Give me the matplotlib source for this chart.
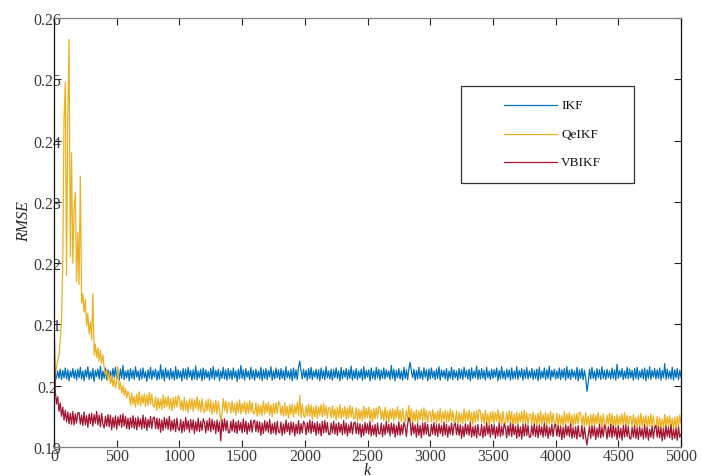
import numpy as np
import matplotlib
matplotlib.use("Agg")
import matplotlib.pyplot as plt
from matplotlib.patches import Rectangle
from matplotlib.lines import Line2D

plt.rcParams['font.family'] = ['Liberation Serif', 'DejaVu Serif']

# RMSE sampled every 10 steps, k = 0 ... 5000
k_step = 10

ikf = [0.2000, 0.2009, 0.2014, 0.2024, 0.2012, 0.2027, 0.2010, 0.2025, 0.2013, 0.2029,
       0.2011, 0.2026, 0.2008, 0.2024, 0.2014, 0.2028, 0.2012, 0.2025, 0.2009, 0.2027,
       0.2013, 0.2030, 0.2011, 0.2024, 0.2008, 0.2026, 0.2014, 0.2031, 0.2010, 0.2023,
       0.2012, 0.2028, 0.2007, 0.2025, 0.2015, 0.2027, 0.2011, 0.2032, 0.2009, 0.2024,
       0.2012, 0.2029, 0.2010, 0.2026, 0.2013, 0.2024, 0.2008, 0.2028, 0.2014, 0.2030,
       0.2011, 0.2025, 0.2009, 0.2027, 0.2012, 0.2033, 0.2010, 0.2024, 0.2013, 0.2026,
       0.2008, 0.2028, 0.2012, 0.2025, 0.2010, 0.2031, 0.2014, 0.2024, 0.2009, 0.2027,
       0.2011, 0.2029, 0.2013, 0.2023, 0.2007, 0.2026, 0.2012, 0.2030, 0.2010, 0.2025,
       0.2014, 0.2027, 0.2009, 0.2024, 0.2011, 0.2034, 0.2012, 0.2026, 0.2008, 0.2029,
       0.2013, 0.2025, 0.2010, 0.2028, 0.2012, 0.2024, 0.2009, 0.2031, 0.2011, 0.2026,
       0.2013, 0.2024, 0.2008, 0.2028, 0.2012, 0.2027, 0.2010, 0.2030, 0.2014, 0.2025,
       0.2009, 0.2026, 0.2011, 0.2032, 0.2010, 0.2024, 0.2013, 0.2027, 0.2008, 0.2029,
       0.2011, 0.2026, 0.2013, 0.2023, 0.2009, 0.2028, 0.2012, 0.2031, 0.2010, 0.2025,
       0.2014, 0.2027, 0.2008, 0.2024, 0.2012, 0.2030, 0.2011, 0.2026, 0.2009, 0.2028,
       0.2012, 0.2025, 0.2010, 0.2029, 0.2013, 0.2024, 0.2007, 0.2027, 0.2011, 0.2033,
       0.2012, 0.2026, 0.2009, 0.2028, 0.2014, 0.2024, 0.2010, 0.2030, 0.2012, 0.2025,
       0.2009, 0.2027, 0.2013, 0.2024, 0.2011, 0.2030, 0.2008, 0.2026, 0.2012, 0.2028,
       0.2010, 0.2025, 0.2014, 0.2031, 0.2009, 0.2024, 0.2011, 0.2029, 0.2013, 0.2026,
       0.2010, 0.2028, 0.2012, 0.2025, 0.2009, 0.2031, 0.2013, 0.2024, 0.2011, 0.2027,
       0.2008, 0.2029, 0.2012, 0.2026, 0.2010, 0.2030, 0.2040, 0.2024, 0.2011, 0.2027,
       0.2013, 0.2025, 0.2009, 0.2028, 0.2012, 0.2030, 0.2010, 0.2024, 0.2014, 0.2027,
       0.2011, 0.2026, 0.2008, 0.2029, 0.2012, 0.2025, 0.2010, 0.2031, 0.2013, 0.2024,
       0.2011, 0.2027, 0.2009, 0.2026, 0.2013, 0.2029, 0.2012, 0.2024, 0.2008, 0.2030,
       0.2011, 0.2025, 0.2014, 0.2028, 0.2010, 0.2026, 0.2012, 0.2032, 0.2009, 0.2025,
       0.2012, 0.2028, 0.2010, 0.2024, 0.2013, 0.2027, 0.2009, 0.2031, 0.2011, 0.2025,
       0.2014, 0.2026, 0.2008, 0.2029, 0.2012, 0.2024, 0.2010, 0.2030, 0.2013, 0.2027,
       0.2009, 0.2025, 0.2012, 0.2029, 0.2011, 0.2026, 0.2014, 0.2024, 0.2010, 0.2033,
       0.2012, 0.2027, 0.2008, 0.2025, 0.2013, 0.2028, 0.2011, 0.2024, 0.2009, 0.2030,
       0.2012, 0.2026, 0.2010, 0.2028, 0.2038, 0.2024, 0.2013, 0.2027, 0.2009, 0.2025,
       0.2011, 0.2030, 0.2012, 0.2024, 0.2010, 0.2029, 0.2014, 0.2026, 0.2008, 0.2027,
       0.2011, 0.2029, 0.2013, 0.2024, 0.2010, 0.2027, 0.2012, 0.2031, 0.2009, 0.2026,
       0.2014, 0.2025, 0.2011, 0.2028, 0.2008, 0.2024, 0.2012, 0.2030, 0.2010, 0.2026,
       0.2013, 0.2024, 0.2009, 0.2028, 0.2012, 0.2026, 0.2010, 0.2030, 0.2014, 0.2025,
       0.2011, 0.2027, 0.2008, 0.2029, 0.2012, 0.2024, 0.2013, 0.2032, 0.2010, 0.2026,
       0.2011, 0.2028, 0.2012, 0.2025, 0.2009, 0.2030, 0.2013, 0.2024, 0.2010, 0.2027,
       0.2012, 0.2026, 0.2014, 0.2029, 0.2008, 0.2025, 0.2011, 0.2031, 0.2012, 0.2024,
       0.2010, 0.2027, 0.2013, 0.2026, 0.2009, 0.2029, 0.2011, 0.2024, 0.2012, 0.2031,
       0.2010, 0.2025, 0.2014, 0.2028, 0.2009, 0.2026, 0.2012, 0.2030, 0.2011, 0.2024,
       0.2013, 0.2028, 0.2010, 0.2025, 0.2012, 0.2027, 0.2008, 0.2030, 0.2011, 0.2024,
       0.2013, 0.2029, 0.2010, 0.2026, 0.2012, 0.2032, 0.2009, 0.2025, 0.2014, 0.2027,
       0.2011, 0.2024, 0.2012, 0.2029, 0.2010, 0.2026, 0.2013, 0.2028, 0.2009, 0.2031,
       0.2012, 0.2025, 0.2010, 0.2027, 0.2014, 0.2024, 0.2011, 0.2030, 0.2008, 0.2026,
       0.2012, 0.2028, 0.2010, 0.2025, 0.2013, 0.1991, 0.2004, 0.2027, 0.2011, 0.2030,
       0.2012, 0.2024, 0.2009, 0.2028, 0.2013, 0.2026, 0.2010, 0.2031, 0.2012, 0.2025,
       0.2010, 0.2027, 0.2013, 0.2024, 0.2011, 0.2029, 0.2012, 0.2026, 0.2009, 0.2035,
       0.2012, 0.2025, 0.2014, 0.2028, 0.2010, 0.2024, 0.2012, 0.2030, 0.2011, 0.2027,
       0.2013, 0.2025, 0.2009, 0.2028, 0.2012, 0.2030, 0.2010, 0.2024, 0.2013, 0.2027,
       0.2011, 0.2029, 0.2008, 0.2026, 0.2012, 0.2031, 0.2010, 0.2025, 0.2014, 0.2028,
       0.2011, 0.2026, 0.2012, 0.2029, 0.2009, 0.2025, 0.2013, 0.2036, 0.2010, 0.2027,
       0.2012, 0.2024, 0.2011, 0.2030, 0.2009, 0.2026, 0.2013, 0.2028, 0.2010, 0.2025,
       0.2014]

qeikf = [0.2000, 0.2018, 0.2030, 0.2042, 0.2050, 0.2075, 0.2110, 0.2200, 0.2435, 0.2495,
         0.2180, 0.2440, 0.2565, 0.2210, 0.2380, 0.2200, 0.2290, 0.2315, 0.2170, 0.2250,
         0.2165, 0.2342, 0.2135, 0.2150, 0.2120, 0.2141, 0.2098, 0.2118, 0.2085, 0.2104,
         0.2075, 0.2150, 0.2050, 0.2068, 0.2046, 0.2062, 0.2040, 0.2058, 0.2036, 0.2050,
         0.2030, 0.2018, 0.2026, 0.2009, 0.2021, 0.2003, 0.2017, 0.1999, 0.2012, 0.1996,
         0.2008, 0.2031, 0.1994, 0.2005, 0.1988, 0.2000, 0.1984, 0.1996, 0.1980, 0.1991,
         0.1985, 0.1968, 0.1988, 0.1970, 0.1983, 0.1965, 0.1986, 0.1969, 0.1990, 0.1967,
         0.1984, 0.1971, 0.1987, 0.1966, 0.1985, 0.1968, 0.1989, 0.1970, 0.1986, 0.1967,
         0.1965, 0.1982, 0.1960, 0.1980, 0.1963, 0.1978, 0.1961, 0.1985, 0.1964, 0.1981,
         0.1966, 0.1983, 0.1962, 0.1979, 0.1959, 0.1981, 0.1964, 0.1982, 0.1965, 0.1984,
         0.1980, 0.1961, 0.1976, 0.1959, 0.1981, 0.1960, 0.1975, 0.1956, 0.1978, 0.1962,
         0.1979, 0.1958, 0.1977, 0.1963, 0.1982, 0.1960, 0.1976, 0.1957, 0.1979, 0.1961,
         0.1956, 0.1975, 0.1959, 0.1978, 0.1958, 0.1977, 0.1953, 0.1973, 0.1957, 0.1976,
         0.1954, 0.1974, 0.1960, 0.1942, 0.1957, 0.1979, 0.1959, 0.1975, 0.1955, 0.1972,
         0.1972, 0.1955, 0.1975, 0.1957, 0.1970, 0.1952, 0.1973, 0.1956, 0.1977, 0.1954,
         0.1971, 0.1958, 0.1974, 0.1953, 0.1972, 0.1955, 0.1976, 0.1957, 0.1973, 0.1954,
         0.1955, 0.1972, 0.1950, 0.1970, 0.1953, 0.1968, 0.1951, 0.1975, 0.1954, 0.1971,
         0.1956, 0.1973, 0.1952, 0.1969, 0.1949, 0.1971, 0.1954, 0.1972, 0.1955, 0.1974,
         0.1971, 0.1952, 0.1967, 0.1950, 0.1972, 0.1951, 0.1966, 0.1947, 0.1969, 0.1953,
         0.1970, 0.1949, 0.1968, 0.1954, 0.1973, 0.1951, 0.1984, 0.1948, 0.1970, 0.1952,
         0.1948, 0.1967, 0.1951, 0.1970, 0.1950, 0.1969, 0.1945, 0.1965, 0.1949, 0.1968,
         0.1946, 0.1966, 0.1952, 0.1969, 0.1949, 0.1971, 0.1951, 0.1967, 0.1947, 0.1964,
         0.1964, 0.1947, 0.1967, 0.1949, 0.1962, 0.1944, 0.1965, 0.1948, 0.1969, 0.1946,
         0.1963, 0.1950, 0.1966, 0.1945, 0.1964, 0.1947, 0.1968, 0.1949, 0.1965, 0.1946,
         0.1947, 0.1964, 0.1942, 0.1962, 0.1945, 0.1960, 0.1943, 0.1967, 0.1946, 0.1963,
         0.1948, 0.1965, 0.1944, 0.1961, 0.1941, 0.1963, 0.1946, 0.1964, 0.1947, 0.1966,
         0.1964, 0.1945, 0.1960, 0.1943, 0.1965, 0.1944, 0.1959, 0.1940, 0.1962, 0.1946,
         0.1963, 0.1942, 0.1961, 0.1947, 0.1966, 0.1944, 0.1960, 0.1941, 0.1963, 0.1945,
         0.1941, 0.1960, 0.1944, 0.1968, 0.1943, 0.1962, 0.1938, 0.1958, 0.1942, 0.1961,
         0.1939, 0.1959, 0.1945, 0.1962, 0.1942, 0.1964, 0.1944, 0.1960, 0.1940, 0.1957,
         0.1958, 0.1941, 0.1961, 0.1943, 0.1956, 0.1938, 0.1959, 0.1942, 0.1963, 0.1940,
         0.1957, 0.1944, 0.1960, 0.1939, 0.1958, 0.1941, 0.1962, 0.1943, 0.1959, 0.1940,
         0.1942, 0.1959, 0.1937, 0.1957, 0.1940, 0.1955, 0.1938, 0.1962, 0.1941, 0.1958,
         0.1943, 0.1960, 0.1939, 0.1956, 0.1936, 0.1958, 0.1941, 0.1959, 0.1942, 0.1961,
         0.1959, 0.1940, 0.1955, 0.1938, 0.1960, 0.1939, 0.1954, 0.1935, 0.1957, 0.1941,
         0.1958, 0.1937, 0.1956, 0.1942, 0.1961, 0.1939, 0.1955, 0.1936, 0.1958, 0.1940,
         0.1937, 0.1956, 0.1940, 0.1959, 0.1939, 0.1958, 0.1934, 0.1954, 0.1938, 0.1957,
         0.1935, 0.1955, 0.1941, 0.1958, 0.1938, 0.1960, 0.1940, 0.1956, 0.1936, 0.1953,
         0.1954, 0.1937, 0.1957, 0.1939, 0.1952, 0.1934, 0.1955, 0.1938, 0.1959, 0.1936,
         0.1953, 0.1940, 0.1956, 0.1935, 0.1954, 0.1937, 0.1958, 0.1939, 0.1955, 0.1936,
         0.1938, 0.1955, 0.1933, 0.1953, 0.1936, 0.1951, 0.1934, 0.1958, 0.1937, 0.1954,
         0.1939, 0.1956, 0.1935, 0.1952, 0.1932, 0.1954, 0.1937, 0.1955, 0.1938, 0.1957,
         0.1955, 0.1936, 0.1951, 0.1934, 0.1956, 0.1935, 0.1950, 0.1931, 0.1953, 0.1937,
         0.1954, 0.1933, 0.1952, 0.1938, 0.1957, 0.1935, 0.1951, 0.1932, 0.1954, 0.1936,
         0.1933, 0.1952, 0.1936, 0.1955, 0.1935, 0.1954, 0.1930, 0.1950, 0.1934, 0.1953,
         0.1931, 0.1951, 0.1937, 0.1954, 0.1934, 0.1956, 0.1936, 0.1952, 0.1932, 0.1949,
         0.1950, 0.1933, 0.1953, 0.1935, 0.1948, 0.1930, 0.1951, 0.1934, 0.1955, 0.1932,
         0.1949, 0.1936, 0.1952, 0.1931, 0.1950, 0.1933, 0.1954, 0.1935, 0.1951, 0.1932,
         0.1933, 0.1950, 0.1928, 0.1948, 0.1931, 0.1946, 0.1929, 0.1953, 0.1932, 0.1949,
         0.1934, 0.1951, 0.1930, 0.1947, 0.1927, 0.1949, 0.1932, 0.1950, 0.1933, 0.1952,
         0.1938]

vbikf = [0.2120, 0.1992, 0.1970, 0.1982, 0.1958, 0.1972, 0.1950, 0.1965, 0.1944, 0.1960,
         0.1941, 0.1957, 0.1938, 0.1955, 0.1937, 0.1958, 0.1936, 0.1954, 0.1939, 0.1956,
         0.1956, 0.1937, 0.1952, 0.1935, 0.1957, 0.1936, 0.1951, 0.1932, 0.1954, 0.1938,
         0.1955, 0.1934, 0.1953, 0.1939, 0.1958, 0.1936, 0.1952, 0.1933, 0.1955, 0.1937,
         0.1931, 0.1950, 0.1934, 0.1953, 0.1933, 0.1952, 0.1928, 0.1948, 0.1932, 0.1951,
         0.1929, 0.1949, 0.1935, 0.1952, 0.1932, 0.1954, 0.1934, 0.1950, 0.1930, 0.1947,
         0.1929, 0.1948, 0.1932, 0.1951, 0.1930, 0.1947, 0.1928, 0.1949, 0.1933, 0.1946,
         0.1929, 0.1952, 0.1931, 0.1948, 0.1927, 0.1945, 0.1932, 0.1950, 0.1930, 0.1947,
         0.1949, 0.1930, 0.1947, 0.1929, 0.1946, 0.1924, 0.1944, 0.1927, 0.1948, 0.1931,
         0.1946, 0.1929, 0.1950, 0.1926, 0.1943, 0.1928, 0.1945, 0.1925, 0.1947, 0.1930,
         0.1927, 0.1945, 0.1923, 0.1942, 0.1926, 0.1948, 0.1929, 0.1943, 0.1924, 0.1945,
         0.1928, 0.1944, 0.1922, 0.1941, 0.1926, 0.1947, 0.1925, 0.1942, 0.1927, 0.1946,
         0.1940, 0.1923, 0.1943, 0.1927, 0.1947, 0.1925, 0.1945, 0.1928, 0.1942, 0.1922,
         0.1944, 0.1925, 0.1941, 0.1910, 0.1945, 0.1926, 0.1946, 0.1927, 0.1943, 0.1924,
         0.1923, 0.1942, 0.1926, 0.1945, 0.1924, 0.1941, 0.1922, 0.1943, 0.1927, 0.1940,
         0.1923, 0.1946, 0.1925, 0.1942, 0.1921, 0.1939, 0.1926, 0.1944, 0.1924, 0.1941,
         0.1944, 0.1925, 0.1942, 0.1924, 0.1941, 0.1919, 0.1939, 0.1922, 0.1943, 0.1926,
         0.1941, 0.1924, 0.1945, 0.1921, 0.1938, 0.1923, 0.1940, 0.1920, 0.1942, 0.1925,
         0.1923, 0.1941, 0.1919, 0.1938, 0.1922, 0.1944, 0.1925, 0.1939, 0.1920, 0.1941,
         0.1924, 0.1940, 0.1918, 0.1937, 0.1922, 0.1943, 0.1921, 0.1938, 0.1923, 0.1942,
         0.1937, 0.1920, 0.1940, 0.1924, 0.1944, 0.1922, 0.1942, 0.1925, 0.1939, 0.1919,
         0.1941, 0.1922, 0.1938, 0.1918, 0.1942, 0.1923, 0.1943, 0.1924, 0.1940, 0.1921,
         0.1920, 0.1939, 0.1923, 0.1942, 0.1921, 0.1938, 0.1919, 0.1940, 0.1924, 0.1937,
         0.1920, 0.1943, 0.1922, 0.1939, 0.1918, 0.1936, 0.1923, 0.1941, 0.1921, 0.1938,
         0.1941, 0.1922, 0.1939, 0.1921, 0.1938, 0.1916, 0.1936, 0.1919, 0.1940, 0.1923,
         0.1938, 0.1921, 0.1942, 0.1918, 0.1935, 0.1920, 0.1937, 0.1917, 0.1939, 0.1922,
         0.1921, 0.1939, 0.1917, 0.1936, 0.1920, 0.1942, 0.1923, 0.1937, 0.1918, 0.1939,
         0.1922, 0.1938, 0.1916, 0.1935, 0.1920, 0.1941, 0.1919, 0.1936, 0.1921, 0.1940,
         0.1934, 0.1917, 0.1937, 0.1948, 0.1941, 0.1919, 0.1939, 0.1922, 0.1936, 0.1916,
         0.1938, 0.1919, 0.1935, 0.1915, 0.1939, 0.1920, 0.1940, 0.1921, 0.1937, 0.1918,
         0.1918, 0.1937, 0.1921, 0.1940, 0.1919, 0.1936, 0.1917, 0.1938, 0.1922, 0.1935,
         0.1918, 0.1941, 0.1920, 0.1937, 0.1916, 0.1934, 0.1921, 0.1939, 0.1919, 0.1936,
         0.1939, 0.1920, 0.1937, 0.1919, 0.1936, 0.1914, 0.1934, 0.1917, 0.1938, 0.1921,
         0.1936, 0.1919, 0.1940, 0.1916, 0.1933, 0.1918, 0.1935, 0.1915, 0.1937, 0.1920,
         0.1919, 0.1937, 0.1915, 0.1934, 0.1918, 0.1940, 0.1921, 0.1935, 0.1916, 0.1937,
         0.1920, 0.1936, 0.1914, 0.1933, 0.1918, 0.1939, 0.1917, 0.1934, 0.1919, 0.1938,
         0.1932, 0.1915, 0.1935, 0.1919, 0.1939, 0.1917, 0.1937, 0.1920, 0.1934, 0.1914,
         0.1936, 0.1917, 0.1933, 0.1913, 0.1937, 0.1918, 0.1938, 0.1919, 0.1935, 0.1916,
         0.1916, 0.1935, 0.1919, 0.1938, 0.1917, 0.1934, 0.1915, 0.1936, 0.1920, 0.1933,
         0.1916, 0.1939, 0.1918, 0.1935, 0.1914, 0.1932, 0.1919, 0.1937, 0.1917, 0.1934,
         0.1937, 0.1918, 0.1935, 0.1917, 0.1934, 0.1912, 0.1932, 0.1915, 0.1936, 0.1919,
         0.1934, 0.1917, 0.1938, 0.1914, 0.1931, 0.1916, 0.1933, 0.1913, 0.1935, 0.1918,
         0.1917, 0.1935, 0.1913, 0.1932, 0.1916, 0.1903, 0.1919, 0.1933, 0.1914, 0.1935,
         0.1918, 0.1934, 0.1912, 0.1931, 0.1916, 0.1937, 0.1915, 0.1932, 0.1917, 0.1936,
         0.1930, 0.1913, 0.1933, 0.1917, 0.1937, 0.1915, 0.1935, 0.1918, 0.1932, 0.1912,
         0.1934, 0.1915, 0.1931, 0.1911, 0.1935, 0.1916, 0.1936, 0.1917, 0.1933, 0.1914,
         0.1913, 0.1932, 0.1916, 0.1935, 0.1914, 0.1931, 0.1912, 0.1933, 0.1917, 0.1930,
         0.1913, 0.1936, 0.1915, 0.1932, 0.1911, 0.1929, 0.1916, 0.1934, 0.1914, 0.1931,
         0.1935, 0.1916, 0.1933, 0.1915, 0.1932, 0.1910, 0.1930, 0.1913, 0.1934, 0.1917,
         0.1932, 0.1915, 0.1936, 0.1912, 0.1929, 0.1914, 0.1931, 0.1911, 0.1933, 0.1916,
         0.1921]

names = ["IKF", "QeIKF", "VBIKF"]
colors = ["#0072BD", "#EDB120", "#A2142F"]
series = [ikf, qeikf, vbikf]

x_ticks = [0, 500, 1000, 1500, 2000, 2500, 3000, 3500, 4000, 4500, 5000]
y_ticks = [0.19, 0.20, 0.21, 0.22, 0.23, 0.24, 0.25, 0.26]
y_labels = ["0.19", "0.2", "0.21", "0.22", "0.23", "0.24", "0.25", "0.26"]

W, H = 703, 477
fig = plt.figure(figsize=(W / 100, H / 100), dpi=100)
ax = fig.add_axes([54 / W, 1 - 448 / H, 627 / W, 429 / H])

for vals, c in zip(series, colors):
    k = np.arange(len(vals)) * k_step
    ax.plot(k, vals, color=c, lw=0.9)

ax.set_xlim(0, 5000)
ax.set_ylim(0.19, 0.26)
ax.set_xticks(x_ticks)
ax.set_xticklabels([str(t) for t in x_ticks])
ax.set_yticks(y_ticks)
ax.set_yticklabels(y_labels)

ax.tick_params(axis='both', direction='in', length=5, width=0.8,
               labelsize=11.5, labelcolor='#3a3a3a', color='#222222')
ax.tick_params(axis='x', top=True, pad=1)
ax.tick_params(axis='y', right=True, pad=4.7)
for lab in ax.get_yticklabels():
    lab.set_horizontalalignment('center')

ax.spines['left'].set_color('#111111')
ax.spines['right'].set_color('#111111')
ax.spines['top'].set_color('#808080')
ax.spines['bottom'].set_color('#808080')
for s in ax.spines.values():
    s.set_linewidth(0.9)

fig.text(24 / W, 1 - 222 / H, "RMSE", rotation=90, style='italic',
         fontsize=11.5, color='#262626', ha='center', va='center')
fig.text(367 / W, 1 - 475 / H, "k", style='italic',
         fontsize=11.5, color='#262626', ha='center', va='baseline')

# legend box drawn by hand so the padding follows the original layout
fig.patches.append(Rectangle((461 / W, 1 - 184 / H), 173 / W, 97 / H,
                             transform=fig.transFigure, fill=True, facecolor='white',
                             edgecolor='#333333', lw=0.9, zorder=5))
rows = [106, 135, 163]
for name, c, ry in zip(names, colors, rows):
    fig.lines.append(Line2D([504 / W, 557 / W], [1 - ry / H, 1 - ry / H],
                            transform=fig.transFigure, color=c, lw=0.9, zorder=6))
    fig.text(561 / W, 1 - ry / H, name, fontsize=9.5, color='#111111',
             ha='left', va='center', zorder=6)

fig.savefig("out.png", dpi=100)
